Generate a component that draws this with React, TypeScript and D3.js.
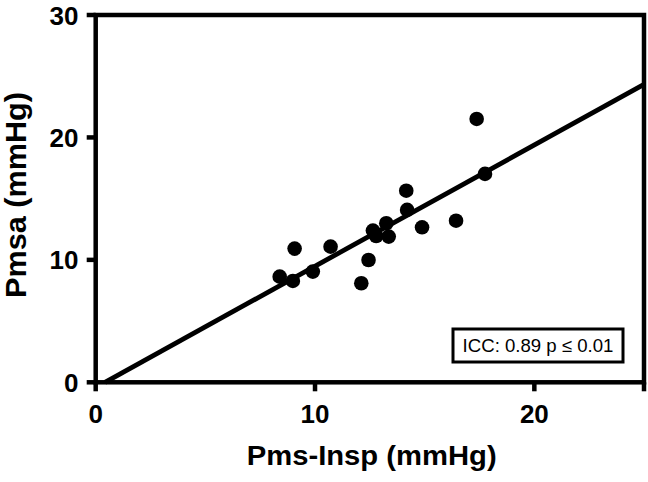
import React from "react";
import * as d3 from "d3";

const pmsInsp = [17.37, 17.75, 14.16, 14.2, 16.43, 14.88, 13.25, 12.64, 12.79, 13.36, 10.71, 9.07, 9.9, 8.39, 8.99, 12.44, 12.11];
const pmsa = [21.51, 17.02, 15.65, 14.08, 13.2, 12.66, 12.99, 12.39, 11.95, 11.9, 11.08, 10.92, 9.04, 8.63, 8.28, 9.99, 8.09];
const xTicks = [0, 10, 20, 25];
const xTickLabels = ["0", "10", "20", ""];
const yTicks = [0, 10, 20, 30];
const yTickLabels = ["0", "10", "20", "30"];
const fitSlope = 0.99;
const fitIntercept = -0.416;
const xTitle = "Pms-Insp (mmHg)";
const yTitle = "Pmsa (mmHg)";
const statText = "ICC: 0.89 p \u2264 0.01";

export default function App() {
  const W = 648, H = 482;
  const x = d3.scaleLinear().domain([0, 25]).range([95.7, 644]);
  const y = d3.scaleLinear().domain([0, 30]).range([382.3, 15]);
  const font = "'Liberation Sans', Arial, Helvetica, sans-serif";
  const x0 = -fitIntercept / fitSlope;
  const fitLine = d3.line<number>().x((d) => x(d)).y((d) => y(fitSlope * d + fitIntercept));
  const sw = 4.5;
  return (
    <svg width={W} height={H} style={{ position: "absolute", left: 0, top: 0, background: "#fff" }}>
      {/* frame */}
      <rect x={x(0)} y={y(30)} width={x(25) - x(0)} height={y(0) - y(30)} fill="none" stroke="#000" strokeWidth={sw} />
      {/* x ticks */}
      {xTicks.map((t, i) => (
        <g key={"xt" + i}>
          <line x1={x(t)} x2={x(t)} y1={y(0)} y2={y(0) + 9} stroke="#000" strokeWidth={sw} />
          <text x={x(t)} y={423} textAnchor="middle" fontFamily={font} fontWeight="bold" fontSize={26}>{xTickLabels[i]}</text>
        </g>
      ))}
      {/* y ticks */}
      {yTicks.map((t, i) => (
        <g key={"yt" + i}>
          <line x1={x(0) - 9} x2={x(0)} y1={y(t)} y2={y(t)} stroke="#000" strokeWidth={sw} />
          <text x={78.5} y={y(t) + 9.5} textAnchor="end" fontFamily={font} fontWeight="bold" fontSize={26}>{yTickLabels[i]}</text>
        </g>
      ))}
      {/* fit line */}
      <path d={fitLine([x0, 25]) || ""} fill="none" stroke="#000" strokeWidth={4.8} />
      {/* points */}
      {pmsInsp.map((v, i) => (
        <circle key={"p" + i} cx={x(v)} cy={y(pmsa[i])} r={7.3} fill="#000" />
      ))}
      {/* stat box */}
      <rect x={453} y={329} width={170} height={33} fill="#fff" stroke="#000" strokeWidth={3} />
      <text x={538} y={352} textAnchor="middle" fontFamily={font} fontSize={18.6}>{statText}</text>
      {/* axis titles */}
      <text x={371.7} y={465} textAnchor="middle" fontFamily={font} fontWeight="bold" fontSize={27} textLength={250} lengthAdjust="spacingAndGlyphs">{xTitle}</text>
      <text transform={`translate(26,195) rotate(-90)`} textAnchor="middle" fontFamily={font} fontWeight="bold" fontSize={29} textLength={206} lengthAdjust="spacingAndGlyphs">{yTitle}</text>
    </svg>
  );
}
